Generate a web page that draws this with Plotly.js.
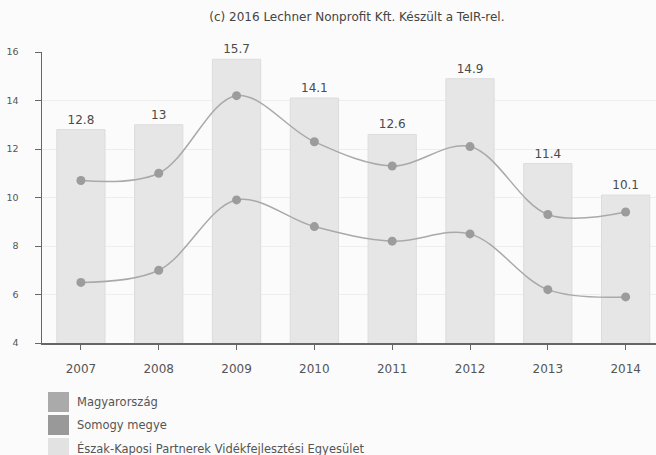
<!DOCTYPE html>
<html>
<head>
<meta charset="utf-8">
<script src="https://cdn.plot.ly/plotly-3.0.1.min.js"></script>
<style>html,body{margin:0;padding:0;background:#fbfbfb}#chart{width:656px;height:455px}</style>
</head>
<body>
<div id="chart"></div>
<script>
var years = ['2007','2008','2009','2010','2011','2012','2013','2014'];
var eszakKaposi = [12.8, 13, 15.7, 14.1, 12.6, 14.9, 11.4, 10.1];
var somogy = [10.7, 11.0, 14.2, 12.3, 11.3, 12.1, 9.3, 9.4];
var magyarorszag = [6.5, 7.0, 9.9, 8.8, 8.2, 8.5, 6.2, 5.9];
var barLabels = ['12.8','13','15.7','14.1','12.6','14.9','11.4','10.1'];
var legendNames = ['Magyarország', 'Somogy megye', 'Észak-Kaposi Partnerek Vidékfejlesztési Egyesület'];
var legendColors = ['#aaaaaa', '#999999', '#e2e2e2'];
var creditText = '(c) 2016 Lechner Nonprofit Kft. Készült a TeIR-rel.';

var font = 'DejaVu Sans, Verdana, sans-serif';
var lineColor = '#a9a9a9';
var markerColor = '#9c9c9c';

var traces = [
  {type:'bar', x:years, y:eszakKaposi, width:0.62, marker:{color:'#e6e6e6', line:{color:'#dcdcdc', width:1}},
   text:barLabels, textposition:'outside', cliponaxis:false, textfont:{family:font, size:12, color:'#4a4a4a'},
   showlegend:false, name:legendNames[2]},
  {type:'scatter', mode:'lines+markers', x:years, y:somogy, name:legendNames[1],
   line:{shape:'spline', smoothing:1, color:lineColor, width:1.5},
   marker:{size:9, color:markerColor}, showlegend:false},
  {type:'scatter', mode:'lines+markers', x:years, y:magyarorszag, name:legendNames[0],
   line:{shape:'spline', smoothing:1, color:lineColor, width:1.5},
   marker:{size:9, color:markerColor}, showlegend:false}
];

function px2paperX(px){ return (px - 42) / 614; }
function px2paperY(py){ return (343 - py) / 291; }

var shapes = [];
var annotations = [];
var rowCenters = [402, 425, 448];
for (var i = 0; i < legendNames.length; i++) {
  var cy = rowCenters[i];
  shapes.push({type:'rect', xref:'paper', yref:'paper',
    x0:px2paperX(48), x1:px2paperX(69), y0:px2paperY(cy+10), y1:px2paperY(cy-10),
    fillcolor:legendColors[i], line:{width:0}});
  annotations.push({xref:'paper', yref:'paper', x:px2paperX(75), y:px2paperY(cy),
    xanchor:'left', yanchor:'middle', showarrow:false, text:legendNames[i],
    font:{family:font, size:11.5, color:'#555'}});
}

var layout = {
  width:656, height:455,
  margin:{l:42, r:0, t:52, b:112},
  paper_bgcolor:'#fbfbfb', plot_bgcolor:'#fbfbfb',
  font:{family:font, size:10, color:'#555'},
  title:{text:creditText, font:{family:font, size:12, color:'#444'}, x:0.544, xanchor:'center', y:1-17/455, yanchor:'middle'},
  xaxis:{type:'category', range:[-0.5,7.39], showline:true, linecolor:'#666', linewidth:1.5, ticks:'outside', ticklen:5, tickcolor:'#666',
         ticklabelstandoff:9, tickfont:{family:font, size:12, color:'#555'}, showgrid:false, zeroline:false, fixedrange:true},
  yaxis:{range:[4,16], dtick:2, showline:true, linecolor:'#666', linewidth:1.5, ticks:'outside', ticklen:6, tickcolor:'#666',
         ticklabelstandoff:14, tickfont:{family:font, size:9.5, color:'#555'}, showgrid:true, gridcolor:'#eeeeee', zeroline:false, fixedrange:true},
  shapes:shapes,
  annotations:annotations,
  showlegend:false
};

Plotly.newPlot('chart', traces, layout, {displayModeBar:false, staticPlot:true});
</script>
</body>
</html>
